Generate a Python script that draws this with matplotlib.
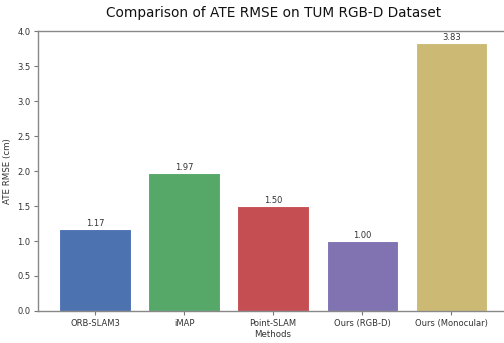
import matplotlib
matplotlib.use("Agg")
import matplotlib.pyplot as plt

methods = ["ORB-SLAM3", "iMAP", "Point-SLAM", "Ours (RGB-D)", "Ours (Monocular)"]
ate_rmse = [1.17, 1.97, 1.50, 1.00, 3.83]
bar_colors = ["#4C72B0", "#55A868", "#C44E52", "#8172B2", "#CCB974"]
yticks = [0.0, 0.5, 1.0, 1.5, 2.0, 2.5, 3.0, 3.5, 4.0]

text_color = "#333333"

fig = plt.figure(figsize=(5.04, 3.43), dpi=100)
ax = fig.add_axes([0.0754, 0.0933, 0.933, 0.8163])

x = range(len(methods))
bars = ax.bar(x, ate_rmse, width=0.8, color=bar_colors, edgecolor="white", linewidth=0.8)
for b, v in zip(bars, ate_rmse):
    ax.text(b.get_x() + b.get_width() / 2, v + 0.02, f"{v:.2f}",
            ha="center", va="bottom", fontsize=6.0, color=text_color)

ax.set_xlim(-0.64, 4.64)
ax.set_ylim(0, 4.0)
ax.set_xticks(list(x))
ax.set_xticklabels(methods)
ax.set_yticks(yticks)
ax.set_yticklabels([f"{t:.1f}" for t in yticks])
ax.tick_params(labelsize=6.0, length=3, width=0.8, color="#777777",
               labelcolor=text_color, pad=2.5)
for s in ax.spines.values():
    s.set_color("#888888")
    s.set_linewidth(1.0)

ax.set_xlabel("Methods", fontsize=6.2, labelpad=1.5, color=text_color)
ax.set_ylabel("ATE RMSE (cm)", fontsize=6.2, labelpad=4, color=text_color)
ax.set_title("Comparison of ATE RMSE on TUM RGB-D Dataset", fontsize=9.8, pad=10, color="#111111")

fig.savefig("out.png", dpi=100)
